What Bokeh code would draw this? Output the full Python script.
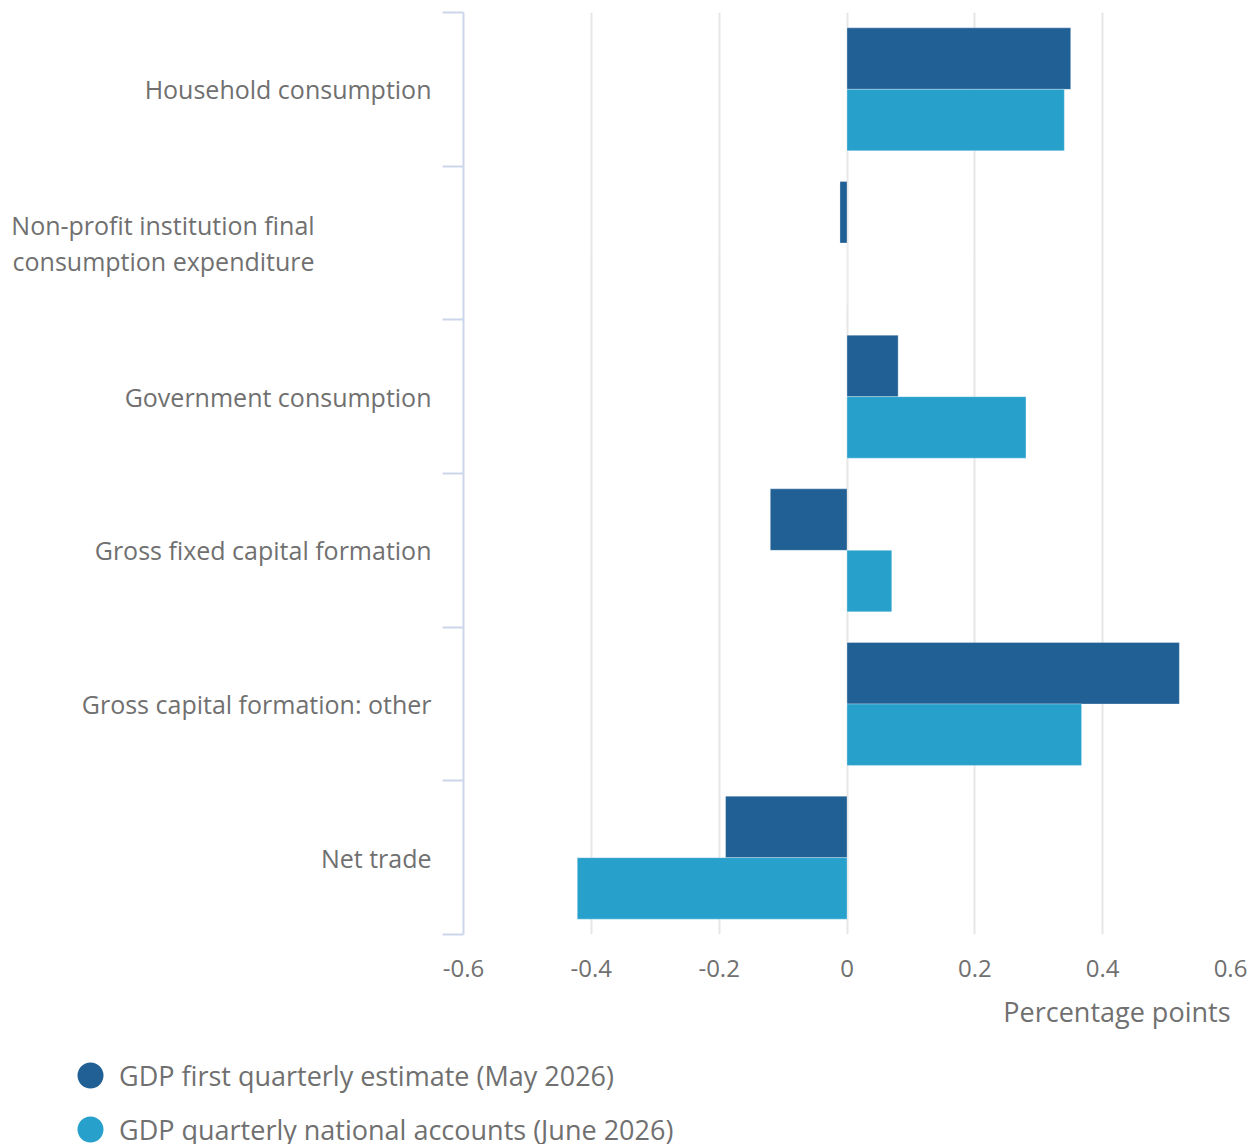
from bokeh.plotting import figure
from bokeh.models import (Range1d, FixedTicker, Legend, LegendItem, ColumnDataSource, Title)
from bokeh.embed import file_html
from bokeh.resources import INLINE

# ---- data ----
categories = ["Household consumption",
              "Non-profit institution final\nconsumption expenditure",
              "Government consumption",
              "Gross fixed capital formation",
              "Gross capital formation: other",
              "Net trade"]
first_estimate = [0.35, -0.011, 0.08, -0.12, 0.52, -0.19]
quarterly_accounts = [0.34, 0.0, 0.28, 0.07, 0.367, -0.422]
series_names = ["GDP first quarterly estimate (May 2026)",
                "GDP quarterly national accounts (June 2026)"]
x_ticks = [-0.6, -0.4, -0.2, 0, 0.2, 0.4, 0.6]
x_tick_labels = ["-0.6", "-0.4", "-0.2", "0", "0.2", "0.4", "0.6"]
x_axis_title = "Percentage points"

DARK = "#206095"
LIGHT = "#27a0cc"
TEXT = "#707070"
AXIS = "#ccd6eb"
FONT = "Open Sans"

n = len(categories)
centers = [n - i - 0.5 for i in range(n)]
x_lo, x_hi = x_ticks[0], x_ticks[-1]

W = 1252
H_MAIN = 1054

p = figure(frame_width=767, frame_height=922,
           x_range=Range1d(x_lo, x_hi), y_range=Range1d(0, n),
           output_backend="svg", toolbar_location=None,
           min_border_left=463, min_border_right=W - 463 - 767, min_border_top=12,
           min_border_bottom=H_MAIN - 12 - 922)
p.outline_line_color = None
p.background_fill_color = "white"

src = ColumnDataSource(dict(
    y_dark=[c + 0.2 for c in centers],
    y_light=[c - 0.2 for c in centers],
    first=first_estimate,
    qna=quarterly_accounts,
))
p.hbar(y="y_dark", left=0, right="first", height=0.4, source=src,
       fill_color=DARK, line_color="white", line_alpha=0.3, line_width=1)
p.hbar(y="y_light", left=0, right="qna", height=0.4, source=src,
       fill_color=LIGHT, line_color="white", line_alpha=0.3, line_width=1)

# x axis
xa = p.xaxis[0]
xa.ticker = FixedTicker(ticks=x_ticks, minor_ticks=[])
xa.major_label_overrides = {t: l for t, l in zip(x_ticks, x_tick_labels)}
xa.axis_line_color = None
xa.major_tick_line_color = None
xa.minor_tick_line_color = None
xa.major_tick_out = 0
xa.major_tick_in = 0
xa.major_label_standoff = 25
xa.major_label_text_font = FONT
xa.major_label_text_font_size = "24px"
xa.major_label_text_color = TEXT

# axis title, right aligned under the plot area
p.add_layout(Title(text=x_axis_title, align="right", text_font=FONT,
                   text_font_size="27px", text_font_style="normal",
                   text_color=TEXT, standoff=22), "below")

p.xgrid.grid_line_color = "#e6e6e6"
p.xgrid.grid_line_width = 2
p.ygrid.grid_line_color = None

# y axis: labels at band centres, tick marks at band boundaries
PAD = "\u00a0" * 18
overrides = {}
for c, name in zip(centers, categories):
    if "\n" in name:
        overrides[c] = "\n".join(line + PAD for line in name.split("\n"))
    else:
        overrides[c] = name
ya = p.yaxis[0]
ya.ticker = FixedTicker(ticks=centers, minor_ticks=list(range(0, n + 1)))
ya.major_label_overrides = overrides
ya.axis_line_color = AXIS
ya.axis_line_width = 2
ya.major_tick_line_color = None
ya.major_tick_out = 0
ya.major_tick_in = 0
ya.minor_tick_line_color = AXIS
ya.minor_tick_line_width = 2
ya.minor_tick_out = 21
ya.minor_tick_in = 0
ya.major_label_standoff = 11
ya.major_label_text_font = FONT
ya.major_label_text_font_size = "25px"
ya.major_label_text_color = TEXT
ya.major_label_text_line_height = 1.05

# ---- legend, in its own figure below the chart ----
lg = figure(width=W, height=90, x_range=Range1d(0, 1), y_range=Range1d(0, 1),
            output_backend="svg", toolbar_location=None,
            x_axis_location=None, y_axis_location=None,
            min_border_left=70, min_border_top=1, min_border_right=0, min_border_bottom=0)
lg.outline_line_color = None
lg.xgrid.visible = False
lg.ygrid.visible = False
# markers sit outside the visible range: only their legend swatches show
r1 = lg.scatter(x=[5], y=[5], marker="circle", size=16,
                fill_color=DARK, line_color=DARK, line_width=10)
r2 = lg.scatter(x=[5], y=[5], marker="circle", size=16,
                fill_color=LIGHT, line_color=LIGHT, line_width=10)
legend = Legend(items=[LegendItem(label=series_names[0], renderers=[r1]),
                       LegendItem(label=series_names[1], renderers=[r2])],
                location="top_left", orientation="vertical",
                glyph_width=40, glyph_height=40, label_standoff=9, spacing=14,
                padding=0, margin=0, border_line_color=None, background_fill_alpha=0,
                label_text_font=FONT, label_text_font_size="27px", label_text_color=TEXT)
lg.add_layout(legend)

open("out.html", "w").write(file_html([p, lg], INLINE))
